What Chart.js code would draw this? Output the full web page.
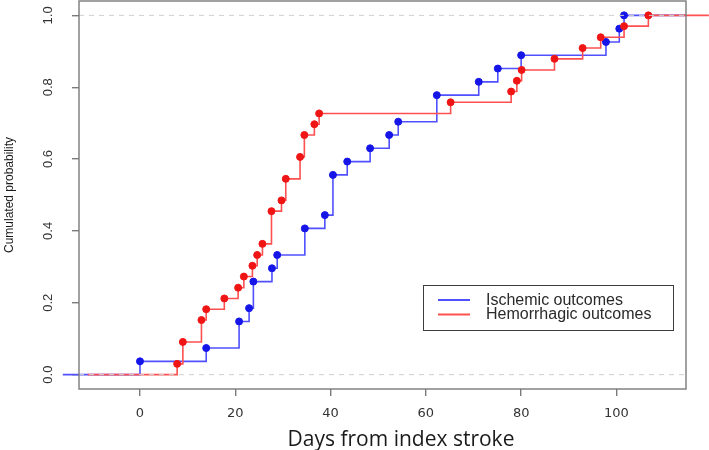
<!DOCTYPE html>
<html>
<head>
<meta charset="utf-8">
<script src="https://cdn.jsdelivr.net/npm/chart.js@4/dist/chart.umd.min.js"></script>
<style>
  html, body { margin: 0; padding: 0; background: #ffffff; }
  #wrap { width: 709px; height: 450px; position: relative; }
</style>
</head>
<body>
<div id="wrap"><canvas id="c"></canvas></div>
<script>
// ---- data ----
const seriesLabels = ['Ischemic outcomes', 'Hemorrhagic outcomes'];
const xTitle = 'Days from index stroke';
const yTitle = 'Cumulated probability';

const ischemicDays = [0, 13.9, 20.8, 22.9, 23.8, 27.7, 28.8, 34.6, 38.8, 40.5, 43.5, 48.3, 52.3, 54.2, 62.3, 71.1, 75.1, 80.0, 97.8, 100.6, 101.6];
const ischemicProb = [0.037, 0.074, 0.148, 0.185, 0.259, 0.296, 0.333, 0.407, 0.444, 0.556, 0.593, 0.630, 0.667, 0.704, 0.778, 0.815, 0.852, 0.889, 0.926, 0.963, 1.0];

const hemorrhagicDays = [7.8, 9.0, 12.9, 13.9, 17.7, 20.6, 21.8, 23.6, 24.6, 25.7, 27.6, 29.7, 30.6, 33.6, 34.5, 36.6, 37.6, 65.2, 77.9, 79.1, 80.1, 87.0, 92.9, 96.7, 101.6, 106.7];
const hemorrhagicProb = [0.030, 0.091, 0.152, 0.182, 0.212, 0.242, 0.273, 0.303, 0.333, 0.364, 0.455, 0.485, 0.545, 0.606, 0.667, 0.697, 0.727, 0.758, 0.788, 0.818, 0.848, 0.879, 0.909, 0.939, 0.970, 1.0];

const xTicks = [0, 20, 40, 60, 80, 100];
const yTicks = [0.0, 0.2, 0.4, 0.6, 0.8, 1.0];
const refLevels = [0, 1];

// axis extents and step-curve tails
const X_MIN = -12.8, X_MAX = 114.6;
const Y_MIN = -0.04, Y_MAX = 1.04;
const blueTail = [-16.2, X_MAX];
const redTail = [-11.0, 119.4];

function stepData(days, probs, tail) {
  const pts = [{ x: tail[0], y: 0 }];
  days.forEach((d, i) => pts.push({ x: d, y: probs[i] }));
  pts.push({ x: tail[1], y: probs[probs.length - 1] });
  return pts;
}

const BLUE_LINE = '#5050ff', BLUE_PT = '#1515e8';
const RED_LINE = '#ff5050', RED_PT = '#f01515';
const FRAME = '#7a7a7a';

const markerRadius = (ctx) => {
  const n = ctx.dataset.data.length;
  return (ctx.dataIndex === 0 || ctx.dataIndex === n - 1) ? 0 : 3.5;
};

const datasets = [
  {
    label: seriesLabels[0],
    data: stepData(ischemicDays, ischemicProb, blueTail),
    stepped: 'before',
    borderColor: BLUE_LINE,
    backgroundColor: BLUE_PT,
    pointBackgroundColor: BLUE_PT,
    pointBorderColor: BLUE_PT,
    pointBorderWidth: 1,
    pointRadius: markerRadius,
    borderWidth: 1.6,
    fill: false,
    clip: false,
    order: 2
  },
  {
    label: seriesLabels[1],
    data: stepData(hemorrhagicDays, hemorrhagicProb, redTail),
    stepped: 'before',
    borderColor: RED_LINE,
    backgroundColor: RED_PT,
    pointBackgroundColor: RED_PT,
    pointBorderColor: RED_PT,
    pointBorderWidth: 1,
    pointRadius: markerRadius,
    borderWidth: 1.6,
    fill: false,
    clip: false,
    order: 1
  }
];
refLevels.forEach((lv) => {
  datasets.push({
    label: 'ref' + lv,
    data: [{ x: X_MIN, y: lv }, { x: X_MAX, y: lv }],
    borderColor: '#cfcfcf',
    borderWidth: 1,
    borderDash: [5, 5],
    pointRadius: 0,
    fill: false,
    order: 0
  });
});

const framePlugin = {
  id: 'frame',
  afterDraw(chart) {
    const { ctx, chartArea: a } = chart;
    ctx.save();
    ctx.strokeStyle = FRAME;
    ctx.lineWidth = 1.4;
    ctx.strokeRect(a.left, a.top, a.right - a.left, a.bottom - a.top);
    // x-axis title (sits slightly right of the plot centre in the reference)
    ctx.fillStyle = '#1a1a1a';
    ctx.font = '21px "Open Sans", "Noto Sans", sans-serif';
    ctx.textAlign = 'center';
    ctx.textBaseline = 'middle';
    ctx.fillText(xTitle, 401, 440);
    ctx.restore();
  }
};

const legendPlugin = {
  id: 'boxLegend',
  afterDraw(chart) {
    const { ctx } = chart;
    const box = { x: 423, y: 285, w: 250, h: 45 };
    ctx.save();
    ctx.fillStyle = '#ffffff';
    ctx.fillRect(box.x, box.y, box.w, box.h);
    ctx.strokeStyle = '#3c3c3c';
    ctx.lineWidth = 1;
    ctx.strokeRect(box.x + 0.5, box.y + 0.5, box.w, box.h);
    const rows = [300, 314.5];
    const cols = [BLUE_LINE, RED_LINE];
    ctx.font = '16px "Liberation Sans", Arial, sans-serif';
    ctx.textBaseline = 'middle';
    ctx.textAlign = 'left';
    seriesLabels.forEach((lab, i) => {
      ctx.strokeStyle = cols[i];
      ctx.lineWidth = 2;
      ctx.beginPath();
      ctx.moveTo(438, rows[i]);
      ctx.lineTo(470, rows[i]);
      ctx.stroke();
      ctx.fillStyle = '#2a2a2a';
      ctx.fillText(lab, 486, rows[i] + 0.5);
    });
    ctx.restore();
  }
};

new Chart(document.getElementById('c'), {
  type: 'line',
  data: { datasets },
  plugins: [framePlugin, legendPlugin],
  options: {
    responsive: true,
    maintainAspectRatio: false,
    animation: false,
    events: [],
    layout: { padding: { top: 1, right: 23, left: 0, bottom: 0 } },
    plugins: {
      legend: { display: false },
      tooltip: { enabled: false },
      title: { display: false }
    },
    scales: {
      x: {
        type: 'linear',
        min: X_MIN,
        max: X_MAX,
        afterBuildTicks: (s) => { s.ticks = xTicks.map(v => ({ value: v })); },
        afterFit: (s) => { s.height = 61; s.paddingLeft = 0; s.paddingRight = 0; },
        grid: { display: true, drawOnChartArea: false, drawTicks: true, tickLength: 7, color: FRAME, lineWidth: 1.4 },
        border: { display: false },
        ticks: {
          padding: 10,
          color: '#333333',
          font: { family: '"DejaVu Sans", Verdana, sans-serif', size: 13 },
          maxRotation: 0,
          minRotation: 0,
          callback: (v) => String(v)
        },
        title: { display: false }
      },
      y: {
        type: 'linear',
        min: Y_MIN,
        max: Y_MAX,
        afterBuildTicks: (s) => { s.ticks = yTicks.map(v => ({ value: v })); },
        afterFit: (s) => { s.width = 79; s.paddingTop = 0; s.paddingBottom = 0; },
        grid: { display: true, drawOnChartArea: false, drawTicks: true, tickLength: 7, color: FRAME, lineWidth: 1.4 },
        border: { display: false },
        ticks: {
          padding: 15,
          crossAlign: 'center',
          minRotation: 90,
          maxRotation: 90,
          color: '#333333',
          font: { family: '"Liberation Sans", Arial, sans-serif', size: 13 },
          callback: (v) => Number(v).toFixed(1)
        },
        title: {
          display: true,
          text: yTitle,
          color: '#1a1a1a',
          font: { family: '"Liberation Sans", Arial, sans-serif', size: 12, lineHeight: 1.2 },
          padding: { top: 2, bottom: 0 }
        }
      }
    }
  }
});
</script>
</body>
</html>
